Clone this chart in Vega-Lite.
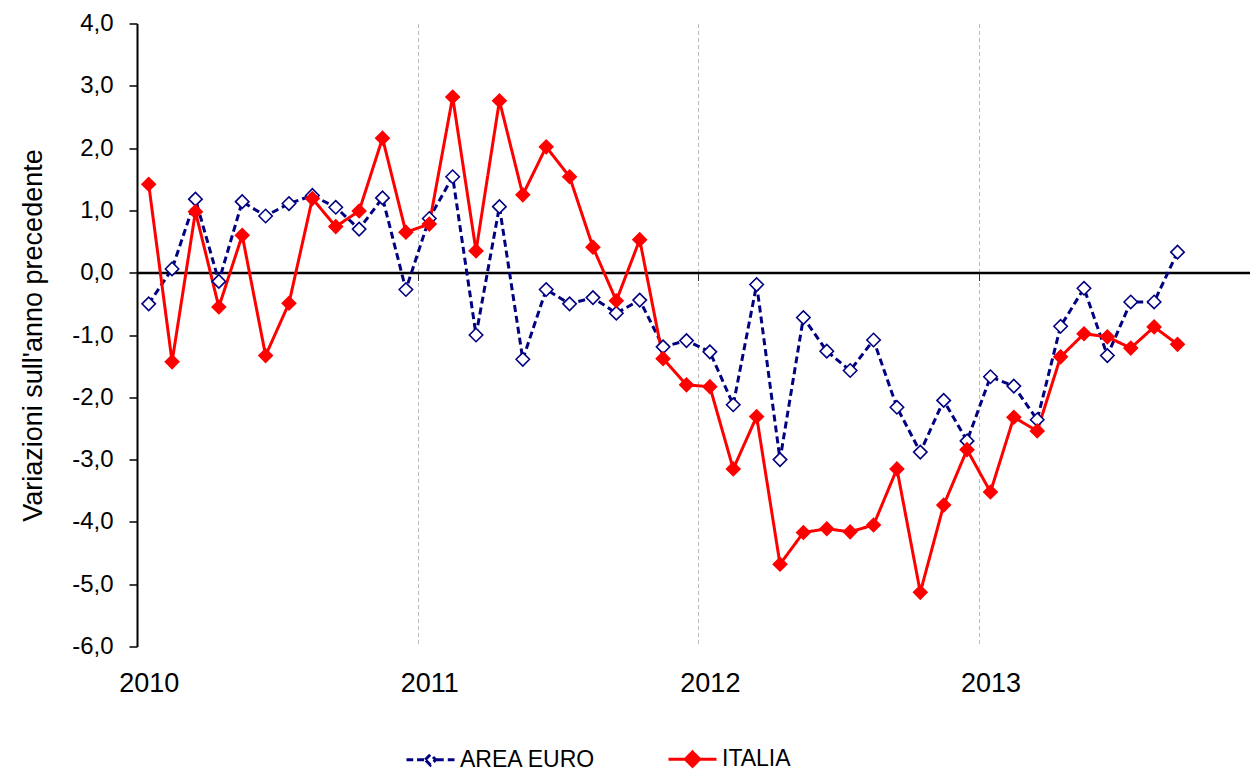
{
  "$schema": "https://vega.github.io/schema/vega-lite/v6.json",
  "width": 1113,
  "height": 623,
  "autosize": {"type": "none"},
  "padding": {"left": 137, "top": 23.5, "right": 0, "bottom": 127.5},
  "background": "#ffffff",
  "config": {
    "view": {"stroke": null},
    "axis": {"labelColor": "#000000", "titleColor": "#000000"}
  },
  "data": {
    "values": [
      {"m": 0, "s": "AREA EURO", "v": -0.50}, {"m": 1, "s": "AREA EURO", "v": 0.06}, {"m": 2, "s": "AREA EURO", "v": 1.18},
      {"m": 3, "s": "AREA EURO", "v": -0.14}, {"m": 4, "s": "AREA EURO", "v": 1.14}, {"m": 5, "s": "AREA EURO", "v": 0.91},
      {"m": 6, "s": "AREA EURO", "v": 1.11}, {"m": 7, "s": "AREA EURO", "v": 1.24}, {"m": 8, "s": "AREA EURO", "v": 1.05},
      {"m": 9, "s": "AREA EURO", "v": 0.70}, {"m": 10, "s": "AREA EURO", "v": 1.20}, {"m": 11, "s": "AREA EURO", "v": -0.27},
      {"m": 12, "s": "AREA EURO", "v": 0.87}, {"m": 13, "s": "AREA EURO", "v": 1.54}, {"m": 14, "s": "AREA EURO", "v": -1.00},
      {"m": 15, "s": "AREA EURO", "v": 1.06}, {"m": 16, "s": "AREA EURO", "v": -1.39}, {"m": 17, "s": "AREA EURO", "v": -0.27},
      {"m": 18, "s": "AREA EURO", "v": -0.50}, {"m": 19, "s": "AREA EURO", "v": -0.40}, {"m": 20, "s": "AREA EURO", "v": -0.65},
      {"m": 21, "s": "AREA EURO", "v": -0.44}, {"m": 22, "s": "AREA EURO", "v": -1.19}, {"m": 23, "s": "AREA EURO", "v": -1.09},
      {"m": 24, "s": "AREA EURO", "v": -1.27}, {"m": 25, "s": "AREA EURO", "v": -2.12}, {"m": 26, "s": "AREA EURO", "v": -0.19},
      {"m": 27, "s": "AREA EURO", "v": -3.00}, {"m": 28, "s": "AREA EURO", "v": -0.72}, {"m": 29, "s": "AREA EURO", "v": -1.26},
      {"m": 30, "s": "AREA EURO", "v": -1.57}, {"m": 31, "s": "AREA EURO", "v": -1.08}, {"m": 32, "s": "AREA EURO", "v": -2.16},
      {"m": 33, "s": "AREA EURO", "v": -2.88}, {"m": 34, "s": "AREA EURO", "v": -2.05}, {"m": 35, "s": "AREA EURO", "v": -2.70},
      {"m": 36, "s": "AREA EURO", "v": -1.67}, {"m": 37, "s": "AREA EURO", "v": -1.82}, {"m": 38, "s": "AREA EURO", "v": -2.36},
      {"m": 39, "s": "AREA EURO", "v": -0.86}, {"m": 40, "s": "AREA EURO", "v": -0.25}, {"m": 41, "s": "AREA EURO", "v": -1.33},
      {"m": 42, "s": "AREA EURO", "v": -0.47}, {"m": 43, "s": "AREA EURO", "v": -0.47}, {"m": 44, "s": "AREA EURO", "v": 0.33},
      {"m": 0, "s": "ITALIA", "v": 1.42}, {"m": 1, "s": "ITALIA", "v": -1.43}, {"m": 2, "s": "ITALIA", "v": 0.98},
      {"m": 3, "s": "ITALIA", "v": -0.55}, {"m": 4, "s": "ITALIA", "v": 0.60}, {"m": 5, "s": "ITALIA", "v": -1.33},
      {"m": 6, "s": "ITALIA", "v": -0.49}, {"m": 7, "s": "ITALIA", "v": 1.19}, {"m": 8, "s": "ITALIA", "v": 0.74},
      {"m": 9, "s": "ITALIA", "v": 0.99}, {"m": 10, "s": "ITALIA", "v": 2.16}, {"m": 11, "s": "ITALIA", "v": 0.65},
      {"m": 12, "s": "ITALIA", "v": 0.78}, {"m": 13, "s": "ITALIA", "v": 2.82}, {"m": 14, "s": "ITALIA", "v": 0.35},
      {"m": 15, "s": "ITALIA", "v": 2.76}, {"m": 16, "s": "ITALIA", "v": 1.25}, {"m": 17, "s": "ITALIA", "v": 2.02},
      {"m": 18, "s": "ITALIA", "v": 1.54}, {"m": 19, "s": "ITALIA", "v": 0.41}, {"m": 20, "s": "ITALIA", "v": -0.45},
      {"m": 21, "s": "ITALIA", "v": 0.53}, {"m": 22, "s": "ITALIA", "v": -1.38}, {"m": 23, "s": "ITALIA", "v": -1.80},
      {"m": 24, "s": "ITALIA", "v": -1.83}, {"m": 25, "s": "ITALIA", "v": -3.15}, {"m": 26, "s": "ITALIA", "v": -2.31},
      {"m": 27, "s": "ITALIA", "v": -4.68}, {"m": 28, "s": "ITALIA", "v": -4.17}, {"m": 29, "s": "ITALIA", "v": -4.11},
      {"m": 30, "s": "ITALIA", "v": -4.16}, {"m": 31, "s": "ITALIA", "v": -4.05}, {"m": 32, "s": "ITALIA", "v": -3.15},
      {"m": 33, "s": "ITALIA", "v": -5.13}, {"m": 34, "s": "ITALIA", "v": -3.73}, {"m": 35, "s": "ITALIA", "v": -2.84},
      {"m": 36, "s": "ITALIA", "v": -3.52}, {"m": 37, "s": "ITALIA", "v": -2.32}, {"m": 38, "s": "ITALIA", "v": -2.54},
      {"m": 39, "s": "ITALIA", "v": -1.35}, {"m": 40, "s": "ITALIA", "v": -0.98}, {"m": 41, "s": "ITALIA", "v": -1.03},
      {"m": 42, "s": "ITALIA", "v": -1.21}, {"m": 43, "s": "ITALIA", "v": -0.87}, {"m": 44, "s": "ITALIA", "v": -1.15}
    ]
  },
  "encoding": {
    "y": {
      "field": "v",
      "type": "quantitative",
      "scale": {"domain": [-6, 4], "nice": false, "zero": false},
      "axis": {
        "values": [-6, -5, -4, -3, -2, -1, 0, 1, 2, 3, 4],
        "labelExpr": "replace(replace(format(datum.value, '.1f'), '.', ','), '\u2212', '-')",
        "grid": false,
        "domainColor": "#000000",
        "domainWidth": 2,
        "tickColor": "#000000",
        "tickWidth": 1.5,
        "tickSize": 8,
        "labelFont": "Liberation Sans",
        "labelFontSize": 24,
        "labelPadding": 16,
        "title": "Variazioni sull'anno precedente",
        "titleFont": "Liberation Sans",
        "titleFontSize": 27,
        "titleFontWeight": "normal",
        "titlePadding": 24
      }
    }
  },
  "layer": [
    {
      "mark": {"type": "line", "strokeWidth": 3},
      "encoding": {
        "x": {
          "field": "m",
          "type": "quantitative",
          "scale": {"domain": [-0.5, 47.1], "nice": false, "zero": false},
          "axis": {
            "orient": "bottom",
            "values": [11.5, 23.5, 35.5],
            "offset": -374,
            "labels": false,
            "ticks": true,
            "tickSize": 8,
            "tickColor": "#333333",
            "tickWidth": 1,
            "domain": true,
            "domainColor": "#000000",
            "domainWidth": 2.5,
            "grid": true,
            "gridColor": "#bbbbbb",
            "gridDash": [4, 3],
            "gridWidth": 1,
            "title": null
          }
        },
        "stroke": {
          "field": "s",
          "type": "nominal",
          "scale": {"domain": ["AREA EURO", "ITALIA"], "range": ["#000080", "#ff0000"]},
          "legend": {
            "orient": "none",
            "legendX": 268,
            "legendY": 710,
            "direction": "horizontal",
            "title": null,
            "symbolSize": 2304,
            "symbolStrokeWidth": 3,
            "labelFont": "Liberation Sans",
            "labelFontSize": 23,
            "labelColor": "#000000",
            "labelOffset": 4,
            "columnPadding": 66,
            "encode": {
              "symbols": {
                "update": {
                  "shape": {"signal": "datum.value === 'ITALIA' ? 'M-1,0L-0.3,0M0.3,0L1,0M-0.3,0L0,-0.3L0.3,0L0,0.3Z' : 'M-1,0L-0.72,0M-0.56,0L-0.26,0M0.26,0L0.56,0M0.72,0L1,0M-0.22,0L0,-0.22L0.22,0L0,0.22Z'"},
                  "size": {"value": 2304},
                  "fill": {"signal": "datum.value === 'ITALIA' ? '#ff0000' : '#ffffff'"},
                  "strokeDash": {"value": [1, 0]},
                  "strokeWidth": {"value": 3}
                }
              }
            }
          }
        },
        "strokeDash": {
          "field": "s",
          "type": "nominal",
          "scale": {"domain": ["AREA EURO", "ITALIA"], "range": [[7, 4], [1, 0]]},
          "legend": null
        }
      }
    },
    {
      "mark": {"type": "point", "shape": "diamond", "strokeWidth": 1.6, "opacity": 1, "size": 180},
      "encoding": {
        "x": {
          "field": "m",
          "type": "quantitative",
          "scale": {"domain": [-0.5, 47.1], "nice": false, "zero": false},
          "axis": {
            "orient": "bottom",
            "values": [0, 12, 24, 36],
            "labelExpr": "toString(2010 + datum.value / 12)",
            "domain": false,
            "ticks": false,
            "tickSize": 0,
            "grid": false,
            "labelFont": "Liberation Sans",
            "labelFontSize": 27,
            "labelPadding": 24,
            "title": null
          }
        },
        "stroke": {"field": "s", "type": "nominal"},
        "fill": {
          "field": "s",
          "type": "nominal",
          "scale": {"domain": ["AREA EURO", "ITALIA"], "range": ["#ffffff", "#ff0000"]},
          "legend": null
        }
      }
    }
  ],
  "resolve": {"axis": {"x": "independent"}}
}
